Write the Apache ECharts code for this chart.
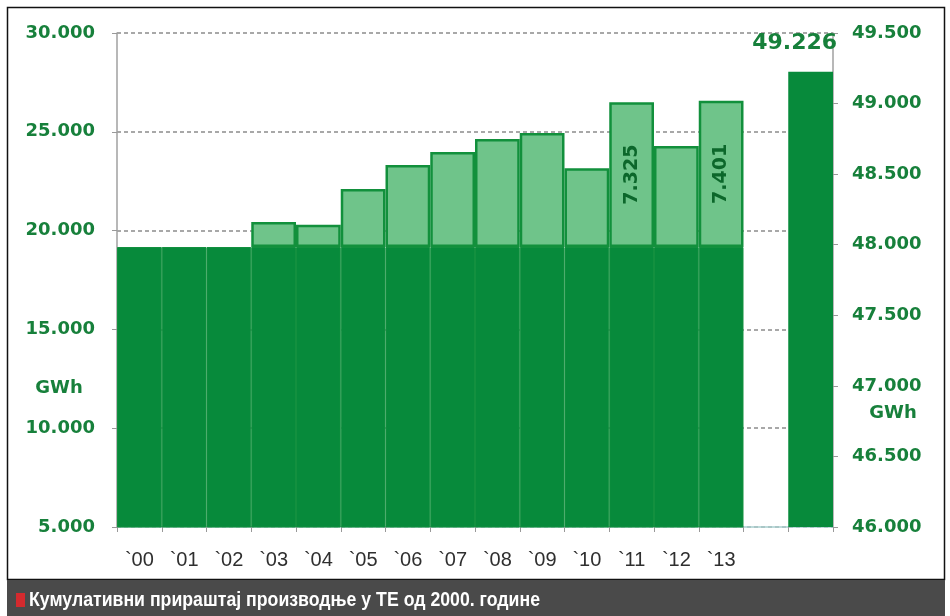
<!DOCTYPE html>
<html>
<head>
<meta charset="utf-8">
<script src="https://cdn.jsdelivr.net/npm/echarts@6/dist/echarts.min.js"></script>
<style>
html,body{margin:0;padding:0;background:#fff;}
#chart{width:950px;height:616px;}
</style>
</head>
<body>
<div id="chart"></div>
<script>
// ---- data ----
const years = ["`00","`01","`02","`03","`04","`05","`06","`07","`08","`09","`10","`11","`12","`13"];
const categories = years.concat([" ", "  "]);
const baseValues = [19170,19170,19170,19170,19170,19170,19170,19170,19170,19170,19170,19170,19170,19170];
const increments = [null,null,null,1270,1120,2940,4150,4810,5460,5770,3990,7325,5110,7401];
const totalValue = 49226;
const labeledYears = ["`11","`13"];
const leftTicks = {min:5000,max:30000,interval:5000};
const rightTicks = {min:46000,max:49500,interval:500};
const unitLabel = "GWh";
const caption = "Кумулативни прираштај производње у ТЕ од 2000. године";

function fmt(v){ return String(v).replace(/\B(?=(\d{3})+(?!\d))/g, '.'); }

const DARK = '#078a3b';
const LIGHT = '#6fc48a';
const LIGHT_BORDER = '#12903c';
const TXT_GREEN = '#17803b';
const numFont = '"DejaVu Sans", sans-serif';
const captionFont = 'bold 20px "Liberation Sans", Arial, sans-serif';

// fit caption to its target width (condensed look of the original)
const mctx = document.createElement('canvas').getContext('2d');
mctx.font = captionFont;
const capW = mctx.measureText(caption).width || 511;
const capScale = Math.min(1, 511 / capW);

const baseSeries = baseValues.concat([null, null]);
const incSeries = increments.concat([null, null]);
const totalSeries = categories.map((c, i) => i === categories.length - 1 ? totalValue : null);

const chart = echarts.init(document.getElementById('chart'), null, {renderer:'canvas'});
chart.setOption({
  animation:false,
  backgroundColor:'#fff',
  grid:{left:117,right:117,top:33,bottom:89,containLabel:false},
  xAxis:[{
    type:'category', data:categories, boundaryGap:true,
    axisLine:{show:true,lineStyle:{color:'#a9cfd0',width:1.5}},
    axisTick:{show:true,length:5,lineStyle:{color:'#999'}},
    axisLabel:{margin:23,fontSize:20,color:'#2f2f2f',fontFamily:'"Liberation Sans", Arial, sans-serif',interval:0},
    splitLine:{show:false}
  },{
    type:'category', data:categories, show:false, boundaryGap:true
  }],
  yAxis:[{
    type:'value', min:leftTicks.min, max:leftTicks.max, interval:leftTicks.interval,
    axisLine:{show:true,lineStyle:{color:'#a0a0a0',width:1.5}},
    axisTick:{show:true,length:5,lineStyle:{color:'#999'}},
    axisLabel:{margin:22,fontSize:18,fontWeight:'bold',color:TXT_GREEN,fontFamily:numFont,formatter:fmt},
    splitLine:{show:true,lineStyle:{color:'#8c8c8c',type:[4,3],width:1.5}}
  },{
    type:'value', position:'right', min:rightTicks.min, max:rightTicks.max, interval:rightTicks.interval,
    axisLine:{show:true,lineStyle:{color:'#a0a0a0',width:1.5}},
    axisTick:{show:true,length:5,lineStyle:{color:'#999'}},
    axisLabel:{margin:19,fontSize:18,fontWeight:'bold',color:TXT_GREEN,fontFamily:numFont,formatter:fmt},
    splitLine:{show:false}
  }],
  series:[{
    type:'bar', name:'base', stack:'a', xAxisIndex:0, yAxisIndex:0,
    data:baseSeries, barCategoryGap:'0%',
    itemStyle:{color:DARK,borderColor:'#13903f',borderWidth:1}
  },{
    type:'bar', name:'inc', stack:'a', xAxisIndex:0, yAxisIndex:0,
    data:incSeries, barCategoryGap:'0%',
    itemStyle:{color:LIGHT,borderColor:LIGHT_BORDER,borderWidth:2.5},
    label:{
      show:true, position:'inside', rotate:90,
      fontSize:19, fontWeight:'bold', color:'#0c672b', fontFamily:numFont,
      formatter:p => labeledYears.indexOf(p.name) >= 0 ? fmt(p.value) : ''
    }
  },{
    type:'bar', name:'total', xAxisIndex:1, yAxisIndex:1,
    data:totalSeries, barCategoryGap:'0%',
    itemStyle:{color:DARK},
    label:{
      show:true, position:'top', distance:5, offset:[-16,-12],
      fontSize:22, fontWeight:'bold', color:TXT_GREEN, fontFamily:numFont,
      formatter:p => fmt(p.value)
    }
  }],
  graphic:[
    {type:'rect', shape:{x:7.5,y:7.5,width:937,height:572}, style:{fill:null,stroke:'#111',lineWidth:1.5}, z:-1},
    {type:'text', x:59, y:388, style:{text:unitLabel, fill:TXT_GREEN, font:'bold 18px "DejaVu Sans", sans-serif', align:'center', verticalAlign:'middle'}},
    {type:'text', x:893, y:413, style:{text:unitLabel, fill:TXT_GREEN, font:'bold 18px "DejaVu Sans", sans-serif', align:'center', verticalAlign:'middle'}},
    {type:'rect', shape:{x:7,y:580,width:938,height:36}, style:{fill:'#4a4a4a'}},
    {type:'rect', shape:{x:16,y:593,width:9,height:14}, style:{fill:'#d42a2e'}},
    {type:'text', x:29, y:600, scaleX:capScale, scaleY:1, style:{text:caption, fill:'#fff', font:captionFont, align:'left', verticalAlign:'middle'}}
  ]
});
</script>
</body>
</html>
